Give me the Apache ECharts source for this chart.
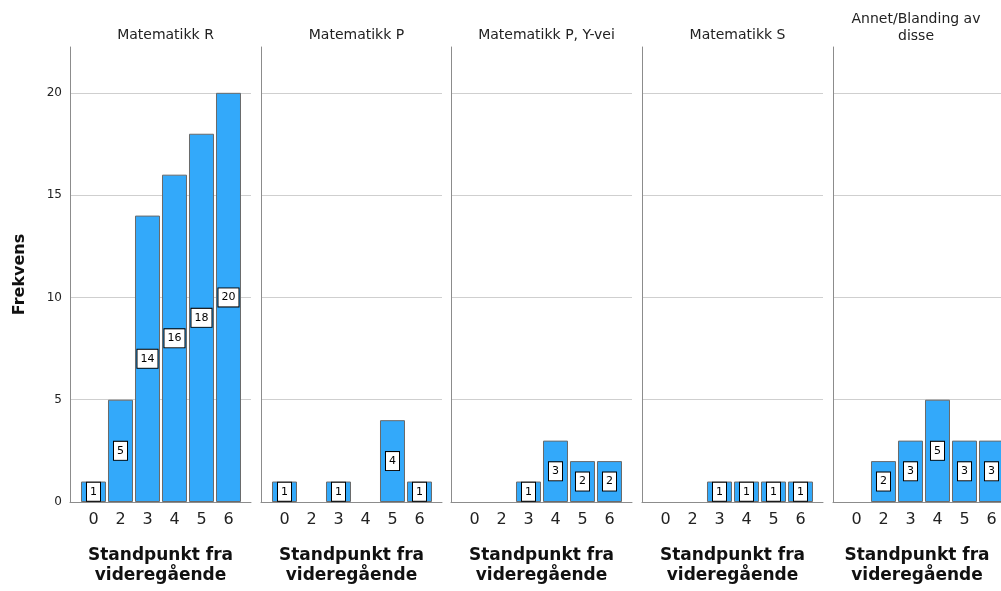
<!DOCTYPE html>
<html>
<head>
<meta charset="utf-8">
<script src="https://cdn.jsdelivr.net/npm/echarts@6/dist/echarts.min.js"></script>
<style>
  html, body { margin: 0; padding: 0; background: #fff; }
  #chart { width: 1001px; height: 591px; }
</style>
</head>
<body>
<div id="chart"></div>
<script>
// Grades on the x axis (shared by every panel)
const categories = ['0', '2', '3', '4', '5', '6'];

// Panel titles (one panel per maths course)
const panelTitles = ['Matematikk R', 'Matematikk P', 'Matematikk P, Y-vei', 'Matematikk S', 'Annet/Blanding av\ndisse'];

// Frequencies per grade for each course
const matR = [1, 5, 14, 16, 18, 20];
const matP = [1, 0, 1, 0, 4, 1];
const matPY = [0, 0, 1, 3, 2, 2];
const matS = [0, 0, 1, 1, 1, 1];
const annet = [0, 2, 3, 5, 3, 3];

// Y axis tick labels
const yTicks = [0, 5, 10, 15, 20];

const panelValues = [matR, matP, matPY, matS, annet];

const FONT = 'DejaVu Sans';
const panelLeft = [70, 261, 451, 642, 833];
const BAND = 27;          // px per grade
const X_MIN = -0.87;      // left padding inside a panel, in bands
const titleCenter = [160.5, 351.5, 541.5, 732.5, 911];

const grids = [], xAxes = [], yAxes = [], series = [], titles = [];

panelValues.forEach((vals, p) => {
  // the last panel runs off the right edge of the canvas
  const width = Math.min(181, 1001 - panelLeft[p]);
  grids.push({ left: panelLeft[p], width: width, top: 47, bottom: 88, containLabel: false });

  titles.push({
    text: panelTitles[p],
    left: titleCenter[p],
    top: p === 4 ? 6 : 22,
    textAlign: 'center',
    textStyle: { fontFamily: FONT, fontSize: 14, fontWeight: 'normal', color: '#222', lineHeight: 17 }
  });

  xAxes.push({
    type: 'value',
    gridIndex: p,
    min: X_MIN,
    max: X_MIN + width / BAND,
    axisLine: { show: true, onZero: false, lineStyle: { color: '#8c8c8c', width: 1 } },
    axisTick: { show: false },
    splitLine: { show: false },
    axisLabel: {
      customValues: categories.map((c, i) => i),
      formatter: v => categories[Math.round(v)],
      fontFamily: FONT, fontSize: 16, color: '#222', margin: 10
    },
    name: 'Standpunkt fra\nvideregående',
    nameLocation: 'middle',
    nameGap: 44,
    nameTextStyle: { fontFamily: FONT, fontSize: 17, fontWeight: 'bold', color: '#111', lineHeight: 20 }
  });

  yAxes.push({
    type: 'value',
    gridIndex: p,
    min: 0,
    max: 22.24,
    interval: 5,
    axisLine: { show: true, onZero: false, lineStyle: { color: '#8c8c8c', width: 1 } },
    axisTick: { show: false, customValues: yTicks },
    splitLine: { show: true, lineStyle: { color: '#cfcfcf', width: 1 } },
    axisLabel: {
      show: p === 0,
      customValues: yTicks,
      fontFamily: FONT, fontSize: 12, color: '#222', margin: 8
    },
    name: p === 0 ? 'Frekvens' : '',
    nameLocation: 'middle',
    nameGap: 42,
    nameTextStyle: { fontFamily: FONT, fontSize: 16, fontWeight: 'bold', color: '#111' }
  });

  series.push({
    type: 'bar',
    xAxisIndex: p,
    yAxisIndex: p,
    barWidth: 25,
    data: vals.map((v, i) => [i, v === 0 ? null : v]),
    itemStyle: { color: '#33a9fa', borderColor: '#6a6a6a', borderWidth: 1 },
    label: {
      show: true,
      position: 'inside',
      formatter: d => d.value[1],
      fontFamily: FONT, fontSize: 11, color: '#000',
      backgroundColor: '#fff', borderColor: '#000', borderWidth: 1,
      padding: [4, 3, 3, 3]
    },
    emphasis: { disabled: true },
    animation: false
  });
});

const chart = echarts.init(document.getElementById('chart'), null, { renderer: 'canvas' });
chart.setOption({
  animation: false,
  backgroundColor: '#fff',
  title: titles,
  grid: grids,
  xAxis: xAxes,
  yAxis: yAxes,
  series: series
});
</script>
</body>
</html>
